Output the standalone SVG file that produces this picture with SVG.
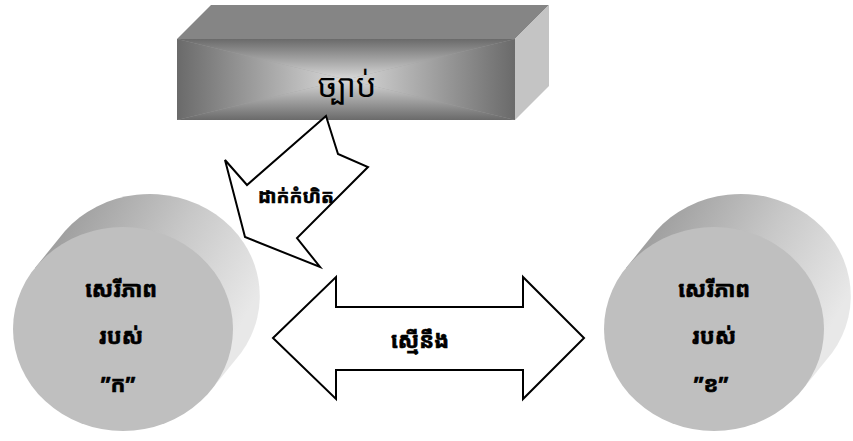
<svg xmlns="http://www.w3.org/2000/svg" width="853" height="441" viewBox="0 0 853 441">
<style>
.kh{font-family:"Noto Sans Khmer","Khmer OS","Noto Sans","DejaVu Sans",sans-serif;fill:#000;text-anchor:middle;dominant-baseline:central}
.b{font-weight:bold;stroke:#000;stroke-width:0.6}
.arrow{fill:#fff;stroke:#000;stroke-width:2;stroke-linejoin:miter}
.front{fill:#bfbfbf}
</style>
<defs>
<linearGradient id="gT" x1="0" y1="0" x2="0" y2="1"><stop offset="0" stop-color="#6a6a6a"/><stop offset="1" stop-color="#dadada"/></linearGradient>
<linearGradient id="gB" x1="0" y1="1" x2="0" y2="0"><stop offset="0" stop-color="#6a6a6a"/><stop offset="1" stop-color="#dadada"/></linearGradient>
<linearGradient id="gL" x1="0" y1="0" x2="1" y2="0"><stop offset="0" stop-color="#6a6a6a"/><stop offset="1" stop-color="#dadada"/></linearGradient>
<linearGradient id="gR" x1="1" y1="0" x2="0" y2="0"><stop offset="0" stop-color="#6a6a6a"/><stop offset="1" stop-color="#dadada"/></linearGradient>
<linearGradient id="side" x1="0" y1="0" x2="1" y2="0.5"><stop offset="0" stop-color="#8f8f8f"/><stop offset="0.6" stop-color="#c8c8c8"/><stop offset="1" stop-color="#e8e8e8"/></linearGradient>
</defs>

<g id="law">
<polygon points="177,39 211,5 549,5 515,39" fill="#858585"/>
<polygon points="515,39 549,5 549,86 515,120" fill="#c4c4c4"/>
<rect x="177" y="39" width="338" height="81" fill="#a0a0a0"/>
<polygon points="177,39 515,39 346,79.5" fill="url(#gT)"/>
<polygon points="177,120 515,120 346,79.5" fill="url(#gB)"/>
<polygon points="177,39 177,120 346,79.5" fill="url(#gL)"/>
<polygon points="515,39 515,120 346,79.5" fill="url(#gR)"/>
<text class="kh" x="347" y="84" font-size="32">ច្បាប់</text>
</g>

<g id="freedomA">
<path d="M211,390 L241,353 A110,102 0 0 0 65,231 L35,268 Z" fill="url(#side)"/>
<ellipse class="front" cx="123" cy="329" rx="110" ry="102"/>
<text class="kh b" x="121" y="288" font-size="22">សេរីភាព</text>
<text class="kh b" x="121" y="335" font-size="22">របស់</text>
<text class="kh b" x="118" y="383" font-size="22">”ក”</text>
</g>

<g id="freedomB">
<path d="M802,390 L832,353 A110,102 0 0 0 656,231 L626,268 Z" fill="url(#side)"/>
<ellipse class="front" cx="714" cy="329" rx="110" ry="102"/>
<text class="kh b" x="714" y="288" font-size="22">សេរីភាព</text>
<text class="kh b" x="714" y="335" font-size="22">របស់</text>
<text class="kh b" x="711" y="383" font-size="22">”ខ”</text>
</g>

<g id="connectors">
<g id="restrict">
<polygon class="arrow" points="326,116 338,154 368,167 297,238 320,267 245,237 225,160 247,185"/>
<text class="kh b" x="296" y="196" font-size="19">ដាក់កំហិត</text>
</g>
<g id="equal">
<polygon class="arrow" points="273,338 336,277 336,307 523,307 523,277 584,338 523,399 523,370 336,370 336,399"/>
<text class="kh b" x="420" y="339" font-size="22">ស្មើនឹង</text>
</g>
</g>
</svg>
